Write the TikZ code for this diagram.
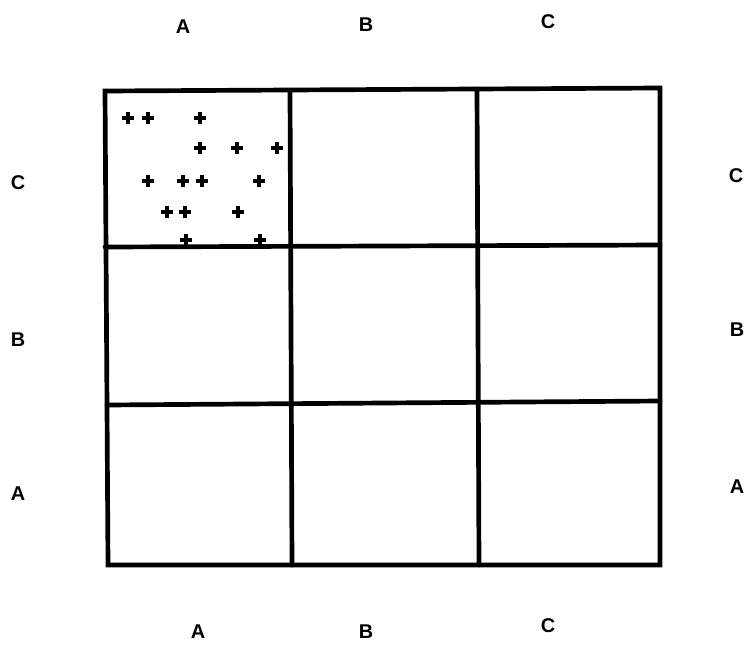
\documentclass[tikz,border=0pt]{standalone}
\usepackage{fontspec}
\setmainfont{Liberation Sans}
\begin{document}
\begin{tikzpicture}[x=0.03cm, y=-0.03cm,
  every node/.style={font=\fontsize{17}{19}\selectfont\bfseries},
  gridline/.style={line width=4pt, line cap=round},
  plusmark/.style={line width=2.8pt}]
  \useasboundingbox (0,0) rectangle (746,661);

  % grid
  \draw[gridline] (105,91) -- (660,88) -- (660,565) -- (108,565) -- cycle;
  \draw[gridline] (290,91) -- (292,565);
  \draw[gridline] (477,89) -- (479,565);
  \draw[gridline] (105,247) -- (660,245);
  \draw[gridline] (107,405) -- (660,401);

  % crosses in the corner cell
  \foreach \px/\py in {128/118, 148/118, 200/118,
                       200/148, 237/148, 277/148,
                       148/181, 183/181, 202/181, 259/181,
                       167/212, 185/212, 238/212,
                       186/240, 260/240}
    \draw[plusmark] (\px-6,\py) -- (\px+6,\py) (\px,\py-6) -- (\px,\py+6);

  % column labels
  \node (topA) at (183,27) {A};
  \node (topB) at (366,25) {B};
  \node (topC) at (548,22) {C};
  \node (botA) at (198,632) {A};
  \node (botB) at (366,632) {B};
  \node (botC) at (548,626) {C};

  % row labels
  \node (leftC) at (18,183) {C};
  \node (leftB) at (18,340) {B};
  \node (leftA) at (18,494) {A};
  \node (rightC) at (736,176) {C};
  \node (rightB) at (737,330) {B};
  \node (rightA) at (737,487) {A};
\end{tikzpicture}
\end{document}
